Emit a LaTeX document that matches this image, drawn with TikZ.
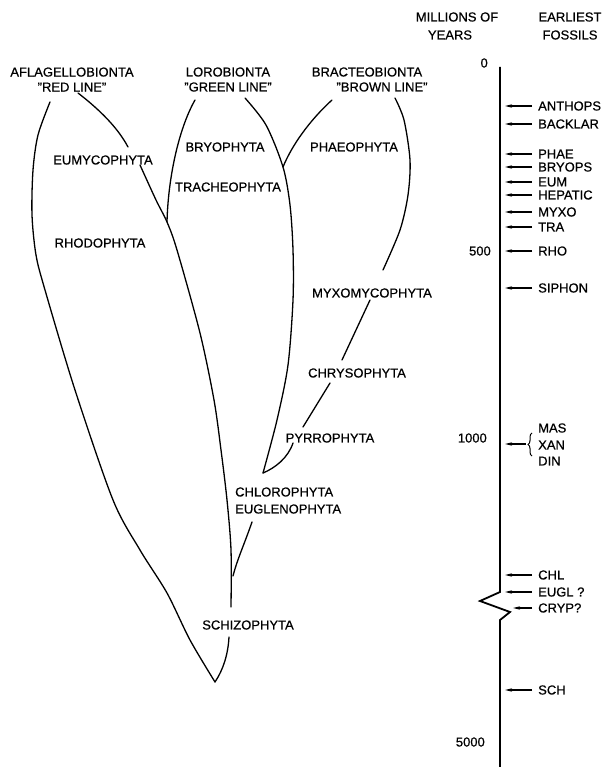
\documentclass[tikz,border=0pt]{standalone}
\usepackage{fontspec}
\setmainfont{Liberation Sans}[FakeBold=0.6]
\usetikzlibrary{arrows.meta,decorations.pathreplacing}

\begin{document}
\begin{tikzpicture}[x=1pt,y=-1pt,
  lab/.style={font=\fontsize{13}{15}\selectfont, inner sep=1pt},
  fossil/.style={lab, anchor=west, inner sep=0pt},
  branch/.style={line width=1.3pt, line cap=round, line join=round},
  axisline/.style={line width=1.8pt, line join=miter},
  arr/.style={line width=1.1pt, -{Stealth[length=7pt,width=3.4pt]}}]

\useasboundingbox (0,0) rectangle (603,767);

% Headings of the three lines
\node[lab, align=center] (aflag) at (72,79.5) {AFLAGELLOBIONTA\\"RED LINE"};
\node[lab, align=center] (loro) at (228,79.5) {LOROBIONTA\\"GREEN LINE"};
\node[lab] (bract) at (367,72) {BRACTEOBIONTA};
\node[lab] (brown) at (382,87) {"BROWN LINE"};

% Group labels
\node[lab] (eumy) at (103,160) {EUMYCOPHYTA};
\node[lab] (bryo) at (225,147) {BRYOPHYTA};
\node[lab] (trach) at (228,187) {TRACHEOPHYTA};
\node[lab] (phaeo) at (354,147) {PHAEOPHYTA};
\node[lab] (rhodo) at (100,243) {RHODOPHYTA};
\node[lab] (myxo) at (372,293) {MYXOMYCOPHYTA};
\node[lab] (chrys) at (357,373) {CHRYSOPHYTA};
\node[lab] (pyrr) at (330,438) {PYRROPHYTA};
\node[lab, anchor=west] (chlor) at (234,492) {CHLOROPHYTA};
\node[lab, anchor=west] (eugl) at (234,509) {EUGLENOPHYTA};
\node[lab] (schiz) at (248,625) {SCHIZOPHYTA};

% Branch ends and junctions
\coordinate (redL) at (50,102);
\coordinate (redR) at (78,93);
\coordinate (eumyT) at (128,147);
\coordinate (eumyB) at (140,165);
\coordinate (tracJ) at (167,222);
\coordinate (greenL) at (195,100);
\coordinate (greenR) at (245,98);
\coordinate (phaeJ) at (283,167);
\coordinate (brownL) at (332,100);
\coordinate (brownR) at (395,98);
\coordinate (myxoT) at (383,270);
\coordinate (myxoB) at (370,300);
\coordinate (chrysT) at (342,360);
\coordinate (chrysB) at (330,383);
\coordinate (pyrrT) at (303,427);
\coordinate (pyrrB) at (293,443);
\coordinate (chlorJ) at (263,473);
\coordinate (euglT) at (252,522);
\coordinate (euglJ) at (233,576);
\coordinate (schizT) at (231,607);
\coordinate (schizB) at (229,637);
\coordinate (root) at (215,682);

% Red line
\draw[branch] plot[smooth] coordinates {(redL) (38,135) (33,170) (32,215) (36,255)
  (45,290) (75,390) (113,500) (140,550) (167,593) (190,640) (root)};
\draw[branch] (root) .. controls (223,670) and (228,655) .. (schizB);
\draw[branch] (redR) .. controls (100,110) and (118,128) .. (eumyT);
\draw[branch] plot[smooth] coordinates {(eumyB) (156,200) (tracJ) (177,250) (200,333)
  (214,400) (221,450) (227,500) (231,550) (schizT)};

% Green line
\draw[branch] (greenL) .. controls (178,130) and (168,180) .. (tracJ);
\draw[branch] plot[smooth] coordinates {(greenR) (266,125) (phaeJ) (290,205) (293,250)
  (293,300) (288,365) (277,420) (chlorJ)};
\draw[branch] (euglT) .. controls (244,545) and (237,560) .. (euglJ);

% Brown line
\draw[branch] (brownL) .. controls (310,120) and (292,145) .. (phaeJ);
\draw[branch] plot[smooth] coordinates {(brownR) (404,120) (410,160) (408,195)
  (400,230) (myxoT)};
\draw[branch] (myxoB) -- (chrysT);
\draw[branch] (chrysB) -- (pyrrT);
\draw[branch] (pyrrB) .. controls (288,458) and (275,468) .. (chlorJ);

% Time scale
\node[lab] (mill) at (457,17) {MILLIONS OF};
\node[lab] (years) at (450,35) {YEARS};
\node[lab] (earl) at (570,17) {EARLIEST};
\node[lab] (foss) at (570,35) {FOSSILS};

\coordinate (axtop) at (500,67);
\coordinate (axbot) at (500,767);
\coordinate (tip) at (505,0);
\draw[axisline] (axtop) -- (500,592) -- (480,601) -- (510,612) -- (500,620) -- (axbot);

\node[lab, anchor=east] (t0) at (489,63) {0};
\node[lab, anchor=east] (t500) at (492,251) {500};
\node[lab, anchor=east] (t1000) at (488,438) {1000};
\node[lab, anchor=east] (t5000) at (486,742) {5000};

% Earliest fossils
\foreach \nm/\yy in {ANTHOPS/106,BACKLAR/124,PHAE/154,BRYOPS/167,EUM/182,HEPATIC/195,
  MYXO/212,TRA/227,RHO/251,SIPHON/288,CHL/575,EUGL ?/592,SCH/690}
{
  \node[fossil] (f\yy) at (538,\yy) {\nm};
  \draw[arr] ([xshift=-6pt]f\yy.west) -- (f\yy.west -| tip);
}
\node[fossil] (cryp) at (538,608) {CRYP?};
\draw[arr] ([xshift=-6pt]cryp.west) -- ([xshift=-25pt]cryp.west);

% Bracketed group near 1000
\node[fossil] (mas) at (538,428) {MAS};
\node[fossil] (xan) at (538,445) {XAN};
\node[fossil] (din) at (538,461) {DIN};
\coordinate (brc) at (526,444);
\draw[line width=1pt, decorate, decoration={brace,amplitude=4pt}]
  (din.west) ++(-6pt,5pt) -- ([shift={(-6pt,-5pt)}]mas.west);
\draw[arr] (brc) -- (brc -| tip);

\end{tikzpicture}
\end{document}
